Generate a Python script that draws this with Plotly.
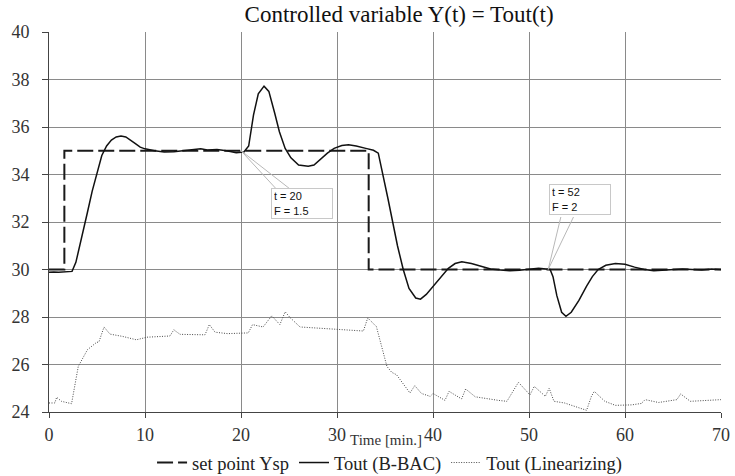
import plotly.graph_objects as go

# Set point
sp_t = [0, 1.6, 1.6, 33.3, 33.3, 70]
sp_y = [30, 30, 35, 35, 30, 30]

# Tout (B-BAC)
bbac_t = [0, 0.5, 1, 1.5, 2, 2.4, 2.8, 3.4, 4.0, 4.5, 5.0, 5.5, 6.0, 6.5, 7.0, 7.5, 8.0, 8.5, 9.0, 9.5,
          10, 11, 12, 13, 14, 15, 15.8, 16.5, 17.5, 18.5, 19.5, 20.3, 20.8, 21.3, 21.8, 22.4, 22.9, 23.5,
          24.0, 24.6, 25.2, 26, 27, 27.6, 28.3, 29, 29.7, 30.5, 31.2, 32, 33, 33.8, 34.3, 34.8, 35.3,
          35.8, 36.3, 36.9, 37.5, 38.2, 38.7, 39.3, 40.2, 41, 41.6, 42.3, 43, 44, 45, 46, 47, 48, 49,
          50, 51, 51.8, 52.2, 52.5, 52.9, 53.4, 53.85, 54.4, 55.2, 56.0, 56.6, 57.2, 58, 59, 60, 61, 62,
          63, 64, 65, 66, 67, 68, 69, 70]
bbac_y = [29.88, 29.9, 29.88, 29.9, 29.9, 29.92, 30.3, 31.3, 32.4, 33.3, 34.0, 34.8, 35.2, 35.45, 35.58,
          35.62, 35.58, 35.45, 35.3, 35.15, 35.08, 35.0, 34.95, 34.96, 35.0, 35.02, 35.08, 35.03, 35.05,
          35.0, 34.92, 34.95, 35.2, 36.5, 37.4, 37.72, 37.5, 36.6, 35.8, 35.1, 34.7, 34.4, 34.35, 34.4,
          34.65, 34.9, 35.1, 35.22, 35.25, 35.2, 35.1, 35.02, 34.9, 34.0, 33.0, 32.0, 31.0, 30.0, 29.2,
          28.8, 28.75, 28.95, 29.4, 29.8, 30.05, 30.25, 30.33, 30.25, 30.12, 30.02, 29.98, 29.95, 29.97,
          30.0, 30.05, 30.02, 30.0, 29.7, 28.9, 28.2, 28.03, 28.2, 28.7, 29.3, 29.7, 30.0, 30.18, 30.25,
          30.22, 30.1, 30.0, 29.95, 29.97, 30.0, 30.02, 30.0, 29.98, 30.02, 30.0]

# Tout (Linearizing)
lin_t = [0, 0.6, 0.8, 1.3, 2.35, 3.05, 4.0, 4.95, 5.2, 5.73, 6.35, 7.7, 9.1, 10.2, 12.6, 13.0, 13.65,
         16.25, 16.7, 17.3, 18.6, 20.76, 21.2, 22.3, 23.2, 24.05, 24.6, 25.1, 26.15, 27.2, 29.6, 32.75,
         33.2, 34.1, 34.65, 35.2, 35.7, 36.2, 37.6, 38.1, 38.8, 39.7, 40.0, 41.25, 41.67, 42.98, 43.4,
         44.4, 46.8, 47.7, 48.9, 50.1, 50.55, 51.7, 52.1, 52.6, 53.7, 55.8, 56.0, 56.5, 56.8, 57.9, 59.0,
         60.7, 61.7, 62.1, 63.5, 65.4, 65.8, 66.8, 70]
lin_y = [24.38, 24.38, 24.62, 24.45, 24.35, 25.92, 26.62, 26.93, 26.95, 27.58, 27.28, 27.18, 27.04,
         27.15, 27.2, 27.46, 27.27, 27.25, 27.68, 27.36, 27.3, 27.33, 27.68, 27.58, 28.05, 27.68, 28.22,
         27.98, 27.58, 27.55, 27.48, 27.41, 27.96, 27.6, 26.76, 25.92, 25.67, 25.57, 24.8, 25.11, 24.78,
         24.66, 24.78, 24.49, 24.87, 24.55, 24.97, 24.64, 24.49, 24.45, 25.25, 24.72, 25.08, 24.66, 25.0,
         24.45, 24.38, 24.07, 24.07, 24.66, 24.87, 24.45, 24.28, 24.3, 24.36, 24.52, 24.4, 24.52, 24.76,
         24.45, 24.52]

x_ticks = [0, 10, 20, 30, 40, 50, 60, 70]
y_ticks = [24, 26, 28, 30, 32, 34, 36, 38, 40]

SERIF = "Liberation Serif, DejaVu Serif, serif"

fig = go.Figure()
fig.add_trace(go.Scatter(x=sp_t, y=sp_y, mode="lines", name="set point Ysp",
                         line=dict(color="#1a1a1a", width=2, dash="16px,5px")))
fig.add_trace(go.Scatter(x=bbac_t, y=bbac_y, mode="lines", name="Tout (B-BAC)",
                         line=dict(color="#111111", width=1.5)))
fig.add_trace(go.Scatter(x=lin_t, y=lin_y, mode="lines", name="Tout (Linearizing)",
                         line=dict(color="#4a4a4a", width=1, dash="1px,1.5px")))

# Callouts: (x, y, text, wedge1 offset, wedge2 offset, box offset)
callouts = [(20, 35, "t = 20<br>F = 1.5", 36, 39, 50, 39, 61, 53),
            (52, 30, "t = 52<br>F = 2", 13, -54, 26, -54, 32, -70)]
for (cx, cy, txt, a1x, a1y, a2x, a2y, bx, by) in callouts:
    for (axv, ayv) in [(a1x, a1y), (a2x, a2y)]:
        fig.add_annotation(x=cx, y=cy, xref="x", yref="y", text="", showarrow=True,
                           arrowhead=0, arrowwidth=1, arrowcolor="#b8b8b8",
                           ax=axv, ay=ayv, standoff=0, startstandoff=0)
    fig.add_annotation(x=cx, y=cy, xref="x", yref="y", text=txt, showarrow=True,
                       arrowcolor="rgba(0,0,0,0)", ax=bx, ay=by, align="left",
                       font=dict(family="Liberation Sans, Arial", size=11, color="#111"),
                       bgcolor="white", bordercolor="#c8c8c8", borderwidth=1, borderpad=2,
                       width=56, height=25)

fig.add_annotation(xref="paper", yref="paper", x=(385.5 - 49) / (721 - 49),
                   y=-(440 - 412) / (412 - 32), xanchor="center", yanchor="middle",
                   text="Time [min.]", showarrow=False,
                   font=dict(family=SERIF, size=15, color="#333"))

fig.update_layout(
    width=735, height=476,
    margin=dict(l=49, r=14, t=32, b=64, autoexpand=False),
    paper_bgcolor="white", plot_bgcolor="white",
    title=dict(text="Controlled variable Y(t) = Tout(t)", x=0.543, xanchor="center",
               y=(476 - 14) / 476, yanchor="middle", yref="container",
               font=dict(family=SERIF, size=23, color="#111")),
    font=dict(family=SERIF, size=18, color="#333"),
    showlegend=True,
    legend=dict(orientation="h", x=0.53, xanchor="center", xref="container",
                y=(476 - 463) / 476, yanchor="middle", yref="container",
                font=dict(family=SERIF, size=18.5, color="#222"), itemwidth=30,
                bgcolor="rgba(0,0,0,0)"),
    xaxis=dict(range=[0, 70], tickvals=x_ticks, ticktext=[str(v) for v in x_ticks],
               showgrid=True, gridcolor="#8a8a8a", gridwidth=1, zeroline=False,
               showline=True, linecolor="#444", linewidth=1, mirror=False,
               ticks="outside", ticklen=5, tickcolor="#444", ticklabelstandoff=1,
               tickfont=dict(family=SERIF, size=18, color="#333")),
    yaxis=dict(range=[24, 40], tickvals=y_ticks, ticktext=[str(v) for v in y_ticks],
               showgrid=True, gridcolor="#8a8a8a", gridwidth=1, zeroline=False,
               showline=True, linecolor="#444", linewidth=1, mirror=False,
               ticks="outside", ticklen=6, tickcolor="#444", ticklabelstandoff=9,
               tickfont=dict(family=SERIF, size=18, color="#333")),
)

fig.write_html("out.html", config={"displayModeBar": False})

# remove the browser's default body margin so the figure sits at the page origin
with open("out.html", "r", encoding="utf-8") as f:
    html = f.read()
html = html.replace("<body>", '<body style="margin:0;padding:0;">', 1)
html = html.replace("<head>", "<head><style>html,body{margin:0;padding:0;}</style>", 1)
with open("out.html", "w", encoding="utf-8") as f:
    f.write(html)
